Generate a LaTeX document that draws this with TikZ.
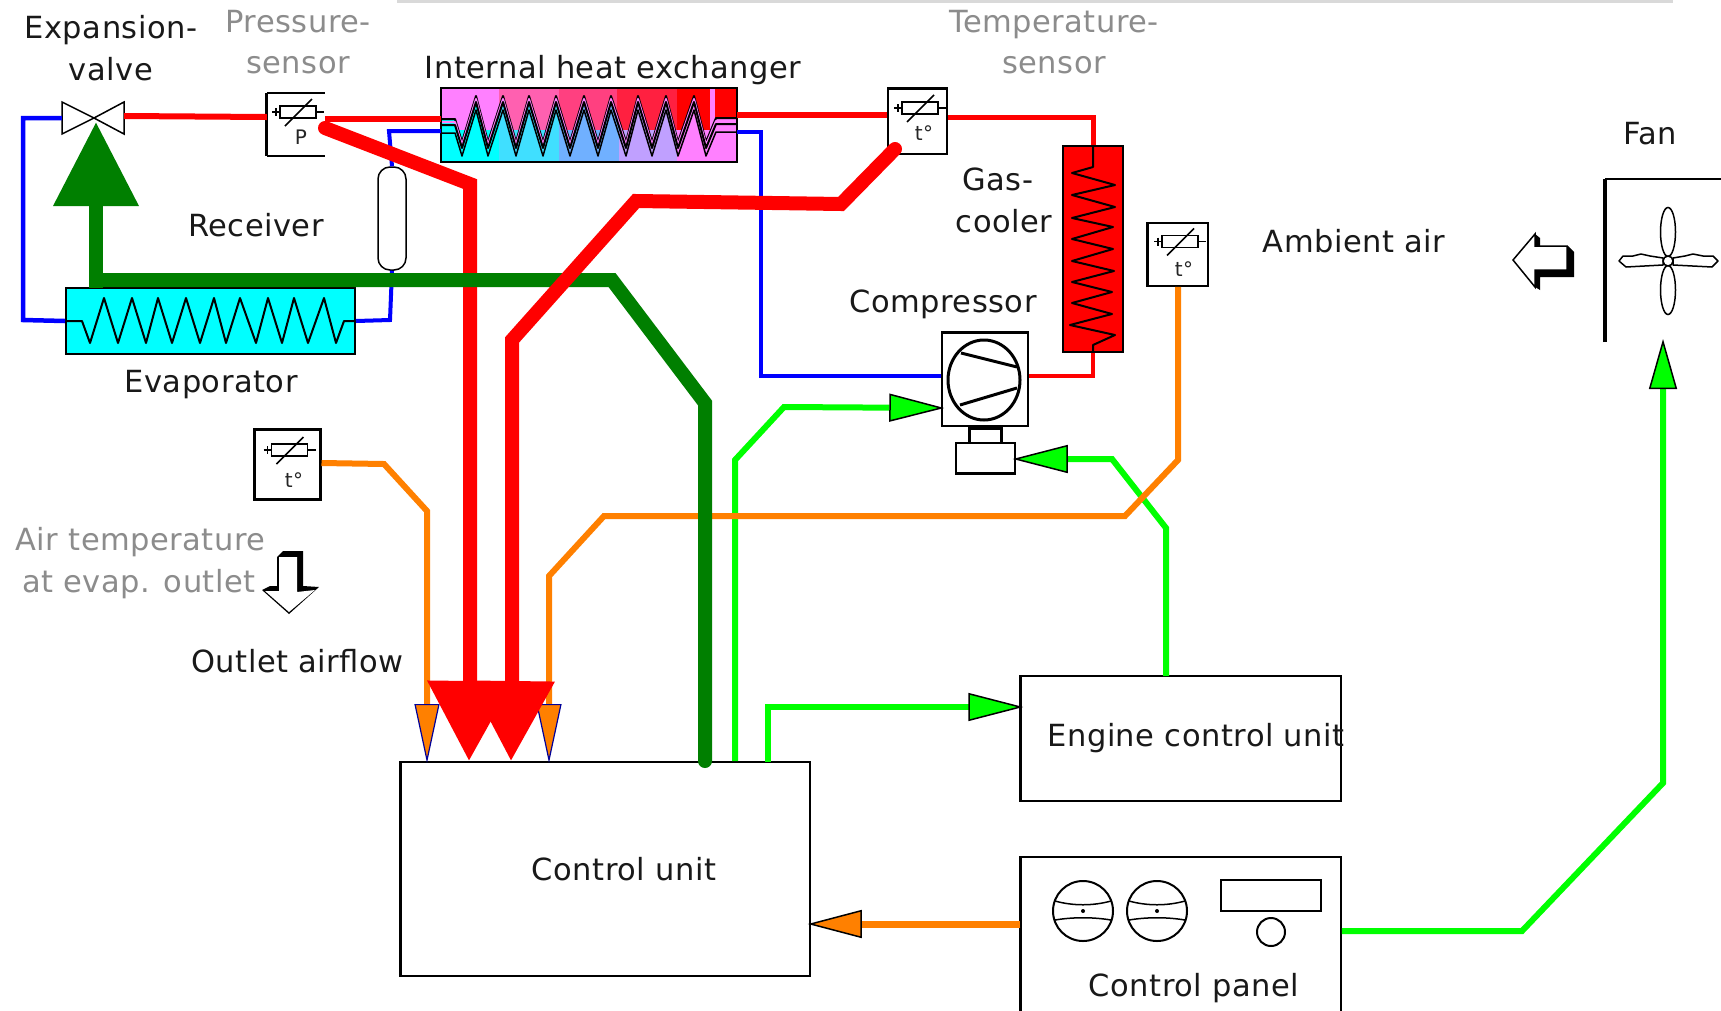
\documentclass[tikz,border=0pt]{standalone}
\usepackage{fontspec}
\setmainfont[LetterSpace=1.7]{DejaVu Sans}
\usetikzlibrary{arrows.meta,calc}
\definecolor{gline}{RGB}{0,255,0}
\definecolor{dgreen}{RGB}{0,127,0}
\definecolor{blueline}{RGB}{0,0,255}
\definecolor{orangeline}{RGB}{255,128,0}
\definecolor{grayt}{RGB}{140,140,140}
\definecolor{pinkm}{RGB}{255,128,255}
\definecolor{cy}{RGB}{0,255,255}
\definecolor{cb}{RGB}{64,223,255}
\definecolor{cc}{RGB}{112,176,255}
\definecolor{cd}{RGB}{192,160,255}
\definecolor{pb}{RGB}{255,96,176}
\definecolor{pc}{RGB}{255,64,128}
\definecolor{pd}{RGB}{255,32,64}
\tikzset{
  x=1pt,y=-1pt,
  lbl/.style={font=\fontsize{30.5}{31}\selectfont,inner sep=0pt,text=black!90,anchor=base},
  glbl/.style={lbl,text=grayt},
  small/.style={font=\fontsize{20}{20}\selectfont,inner sep=0pt,text=black!85},
  boxn/.style={draw=black,line width=1.5pt,inner sep=0pt,fill=white},
  hollow/.style={inner sep=0pt},
  redl/.style={draw=red,line width=6pt},
  bluel/.style={draw=blueline,line width=4pt},
  bigred/.style={draw=red,line width=14pt,line join=miter,line cap=round},
  orl/.style={draw=orangeline,line width=6pt},
  grl/.style={draw=gline,line width=6pt},
  sym/.style={draw=black,line width=2pt,line join=round},
  thin/.style={draw=black,line width=1.5pt},
  gtip/.style={-{Triangle[length=#1,width=28pt,color=black,fill=gline,line width=1.5pt]}},
  otip/.style={-{Triangle[length=59pt,width=25pt,color=blue!60!black,fill=orangeline,line width=1.2pt]}},
  rtip/.style={-{Triangle[length=80pt,width=82pt,color=red,fill=red]}},
}
\newcommand{\rstor}[2]{%
  \draw[thin,fill=white] (#1-18,#2-6) rectangle (#1+18,#2+6);
  \draw[thin] (#1-26,#2) -- (#1-18,#2) (#1+18,#2) -- (#1+26,#2) (#1-22,#2-4) -- (#1-22,#2+4);
  \draw[thin] (#1-13,#2+14) -- (#1+14,#2-13);
}
\newcommand{\ihxpath}[1]{(441,119+#1) -- (455,119+#1) -- (462,142+#1) -- (476,96+#1) -- (488,142+#1) -- (503,96+#1) -- (516,142+#1) -- (529,96+#1) -- (543,142+#1) -- (556,96+#1) -- (570,142+#1) -- (584,96+#1) -- (598,142+#1) -- (611,96+#1) -- (626,142+#1) -- (638,96+#1) -- (652,142+#1) -- (666,96+#1) -- (678,142+#1) -- (694,96+#1) -- (706,142+#1) -- (716,118+#1) -- (737,118+#1)}
\begin{document}
\begin{tikzpicture}
\useasboundingbox (0,0) rectangle (1721,1010);
\fill[white] (0,0) rectangle (1721,1010);
\fill[black!15] (397,0) rectangle (1673,3);

% ---- boxes
\node[boxn,minimum width=409pt,minimum height=214pt] (cu) at (605.5,869) {};
\node[boxn,minimum width=320pt,minimum height=125pt] (ecu) at (1181,738.5) {};
\node[boxn,minimum width=320pt,minimum height=155pt] (panel) at (1181,934.5) {};
\draw[line width=3.5pt] (cu.north west) -- (cu.south west);
\draw[line width=3.5pt] (ecu.north west) -- (ecu.south west);
\draw[line width=3.5pt] (panel.north west) -- (panel.south west);

% evaporator
\node[draw=black,line width=2pt,fill=cy,inner sep=0pt,minimum width=289pt,minimum height=66pt] (evap) at (210.5,321) {};
\draw[sym] (evap.west) -- (82,321) -- (90,343) -- (104,298) -- (118,343) -- (132,298) -- (146,343) -- (158,298) -- (172,343) -- (186,298) -- (200,343) -- (214,298) -- (226,343) -- (240,298) -- (256,343) -- (268,298) -- (282,343) -- (294,298) -- (308,343) -- (324,298) -- (336,343) -- (344,321) -- (evap.east);

% gas cooler
\node[draw=black,line width=2pt,fill=red,inner sep=0pt,minimum width=60pt,minimum height=206pt] (gc) at (1093,249) {};
\draw[sym] (gc.north) -- (1093,167) -- (1072,173) -- (1115,185) -- (1072,195) -- (1115,207) -- (1072,218) -- (1113,227) -- (1072,239) -- (1113,249) -- (1072,261) -- (1114,271) -- (1072,282) -- (1112,292) -- (1072,303) -- (1112,314) -- (1070,325) -- (1115,335) -- (1093,345) -- (gc.south);

% internal heat exchanger
\node[inner sep=0pt,minimum width=296pt,minimum height=74pt] (ihx) at (589,125) {};
\fill[cy] (441,88) rectangle (499,162);
\fill[cb] (499,88) rectangle (559,162);
\fill[cc] (559,88) rectangle (619,162);
\fill[cd] (619,88) rectangle (677,162);
\fill[pinkm] (677,88) rectangle (737,162);
\begin{scope}
  \clip \ihxpath{0} -- (737,88) -- (441,88) -- cycle;
  \fill[pinkm] (441,88) rectangle (499,130);
  \fill[pb] (499,88) rectangle (559,130);
  \fill[pc] (559,88) rectangle (617,130);
  \fill[pd] (617,88) rectangle (677,130);
  \fill[red] (677,88) rectangle (710,130);
  \fill[pinkm] (710,88) rectangle (715,130);
  \fill[red] (715,88) rectangle (737,130);
\end{scope}
\draw[draw=black,line width=2pt,line join=round] \ihxpath{0};
\draw[draw=pinkm,line width=2pt,line join=round] \ihxpath{3};
\draw[draw=black,line width=2pt,line join=round] \ihxpath{6};
\draw[draw=black,line width=1.5pt,line join=round] \ihxpath{14};
\draw[draw=black,line width=2pt] (ihx.north west) rectangle (ihx.south east);

% receiver
\node[draw=black,line width=1.5pt,fill=white,rounded corners=12pt,inner sep=0pt,minimum width=28pt,minimum height=103pt] (recv) at (392,218.5) {};

% pressure sensor (open on the right)
\node[hollow,minimum width=58pt,minimum height=63pt] (ps) at (296,124.5) {};
\draw[thin] (ps.north west) -- (ps.north east) (ps.south west) -- (ps.south east);
\draw[line width=3pt] (ps.north west) -- (ps.south west);
\rstor{298}{112}
\node[small] (ptext) at (301,137) {P};

% temperature sensors
\node[boxn,minimum width=59pt,minimum height=65pt] (ts) at (917.5,121.5) {};
\draw[line width=3.5pt] (ts.north west) -- (ts.north east);
\rstor{920}{108}
\node[small] (t1) at (924,133) {t°};

\node[boxn,minimum width=60pt,minimum height=63pt] (ta) at (1178,254.5) {};
\draw[line width=3pt] (ta.north west) -- (ta.south west);
\rstor{1180}{241.5}
\node[small] (t2) at (1184,269) {t°};

\node[boxn,line width=3pt,minimum width=66pt,minimum height=70pt] (te) at (287,464) {};
\rstor{289.5}{450}
\node[small] (t3) at (294,480) {t°};

% compressor
\node[boxn,minimum width=86pt,minimum height=93pt] (comp) at (985,379.5) {};
\draw[line width=3pt] (comp.north west) -- (comp.north east);
\draw[line width=3pt] (984,380) ellipse [x radius=36,y radius=40];
\draw[line width=3pt] (961,353) -- (1017,367) (960,405) -- (1017,388);
\node[boxn,minimum width=59pt,minimum height=30pt] (motor) at (985.5,458) {};
\draw[line width=3pt] (motor.south west) -- (motor.south east);
\draw[line width=3pt] (969,426) -- (969,443) (1001,426) -- (1001,443) (969,428) -- (1001,428);

% expansion valve
\coordinate (ev) at (94,118);
\node[hollow,minimum width=62pt,minimum height=32pt] (valve) at (93,118) {};
\draw[thin,fill=white] (62,102) -- (62,134) -- (ev) -- cycle;
\draw[thin,fill=white] (124,102) -- (124,134) -- (ev) -- cycle;

% refrigerant lines
\draw[redl] ([yshift=2pt]valve.east) -- ([yshift=7.5pt]ps.west);
\draw[redl] (325,119) -- (ihx.west |- 0,119);
\draw[redl] (737,115) -- (ts.west |- 0,115);
\draw[redl,line width=5pt] (ts.east |- 0,117) -- (1093,117) -- (gc.north);
\draw[redl,line width=4pt] (gc.south) -- (1093,376) -- (comp.east |- 0,376);
\draw[bluel,line width=4.5pt] (valve.west) -- (23,118) -- (23,320) -- (evap.west);
\draw[bluel] (evap.east) -- (390,320) -- (recv.south);
\draw[bluel] (recv.north) -- (389,131) -- (ihx.west |- 0,131);
\draw[bluel] (737,132) -- (761,132) -- (761,376) -- (comp.west |- 0,376);

% signal lines
\coordinate (o1) at (427,763);
\coordinate (o2) at (549,763);
\draw[grl,gtip=55pt] (735,761) -- (735,460) -- (784,407) -- ([xshift=3pt]comp.west |- 0,408);
\draw[grl,gtip=55pt] (1166,676) -- (1166,528) -- (1112,459) -- ([xshift=-3pt]motor.east |- 0,459);
\draw[grl,gtip=55pt] (768,762) -- (768,707) -- ([xshift=3pt]ecu.west |- 0,707);
\draw[grl,gtip=50pt] (panel.east |- 0,931) -- (1522,931) -- (1663,783) -- (1663,339);
\draw[orl,otip] (te.east |- 0,463) -- (384,464) -- (427,511) -- (o1);
\draw[orl,otip] (ta.south) -- (1178,460) -- (1125,516) -- (604,516) -- (549,576) -- (o2);
\draw[draw=orangeline,line width=7pt,-{Triangle[length=54pt,width=28pt,color=black,fill=orangeline,line width=1.5pt]}] (panel.west |- 0,924) -- ([xshift=-3pt]cu.east |- 0,924);

\draw[bigred,rtip] (325,128) -- (470,184) -- (470,681) -- (469,761);
\draw[draw=dgreen,line width=14pt,-{Triangle[length=84pt,width=82pt,color=dgreen,fill=dgreen]}] (96,288) -- (96,122);
\draw[draw=dgreen,line width=14pt,line join=miter] (89,280) -- (612,280) -- (705,403) -- (705,761);
\fill[dgreen] (705,761) circle (7);
\draw[bigred,rtip] (895,149) -- (841,204) -- (636,201) -- (512,340) -- (512,681) -- (511,761);

% control panel contents
\foreach \n/\cx in {a/1083,b/1157}{
  \node[draw=black,line width=2pt,circle,inner sep=0pt,minimum size=60pt] (gauge\n) at (\cx,911) {};
  \draw[thin] (\cx-28,901) .. controls (\cx-10,906) and (\cx+10,906) .. (\cx+28,901);
  \draw[thin] (\cx-28,920) .. controls (\cx-10,917) and (\cx+10,917) .. (\cx+28,920);
  \fill[black] (\cx,911) circle (2);
}
\node[draw=black,line width=2pt,inner sep=0pt,minimum width=100pt,minimum height=31pt] (disp) at (1271,895.5) {};
\node[draw=black,line width=2pt,circle,inner sep=0pt,minimum size=28pt] (knob) at (1271,932) {};

% fan
\draw[line width=4pt] (1605,342) -- (1605,179);
\draw[thin] (1605,179) -- (1721,179);
\draw[thin,fill=white] (1668,232) ellipse [x radius=7.5,y radius=24.5];
\draw[thin,fill=white] (1668,290) ellipse [x radius=7.5,y radius=24.5];
\draw[thin,fill=white,line join=round] (1619,261) -- (1623,256) -- (1633,256) -- (1641,254) -- (1650,256) -- (1663,258) -- (1663,265) -- (1626,267) -- cycle;
\draw[thin,fill=white,line join=round] (1718,261) -- (1713,256) -- (1703,256) -- (1693,254) -- (1685,256) -- (1673,258) -- (1673,265) -- (1712,267) -- cycle;
\node[draw=black,line width=1.5pt,circle,fill=white,inner sep=0pt,minimum size=10pt] (hub) at (1668,261) {};

% air arrows
\fill[black] (1535,234) -- (1540,238) -- (1540,246) -- (1568,246) -- (1574,252) -- (1574,277) -- (1540,277) -- (1540,290) -- (1535,287) -- cycle;
\draw[thin,fill=white] (1513,260) -- (1535,234) -- (1535,246) -- (1567,246) -- (1567,270) -- (1535,270) -- (1535,287) -- cycle;
\fill[black] (262,590) -- (270,586) -- (277,586) -- (277,557) -- (283,551) -- (303,551) -- (303,586) -- (319,587) -- (289,614) -- cycle;
\fill[white] (265,591) -- (279,591) -- (279,557) -- (297,557) -- (297,592) -- (315,590) -- (289,612) -- cycle;

% labels
\node[lbl] (l1) at (111,38) {Expansion-};
\node[lbl] (l2) at (111,80) {valve};
\node[glbl] (l3) at (298,32) {Pressure-};
\node[glbl] (l4) at (298,73) {sensor};
\node[lbl] (l5) at (613,78) {Internal heat exchanger};
\node[glbl] (l6) at (1054,32) {Temperature-};
\node[glbl] (l7) at (1054,73) {sensor};
\node[lbl] (l8) at (1650,144) {Fan};
\node[lbl] (l9) at (998,190) {Gas-};
\node[lbl] (l10) at (1004,232) {cooler};
\node[lbl] (l11) at (1354,252) {Ambient air};
\node[lbl] (l12) at (943,312) {Compressor};
\node[lbl] (l13) at (256,236) {Receiver};
\node[lbl] (l14) at (211,392) {Evaporator};
\node[glbl] (l15) at (140.5,550) {Air temperature};
\node[glbl] (l16) at (139,592) {at evap. outlet};
\node[lbl] (l17) at (297.5,672) {Outlet airflow};
\node[lbl] (l18) at (624,880) {Control unit};
\node[lbl] (l19) at (1196,746) {Engine control unit};
\node[lbl] (l20) at (1194,996) {Control panel};
\end{tikzpicture}
\end{document}
